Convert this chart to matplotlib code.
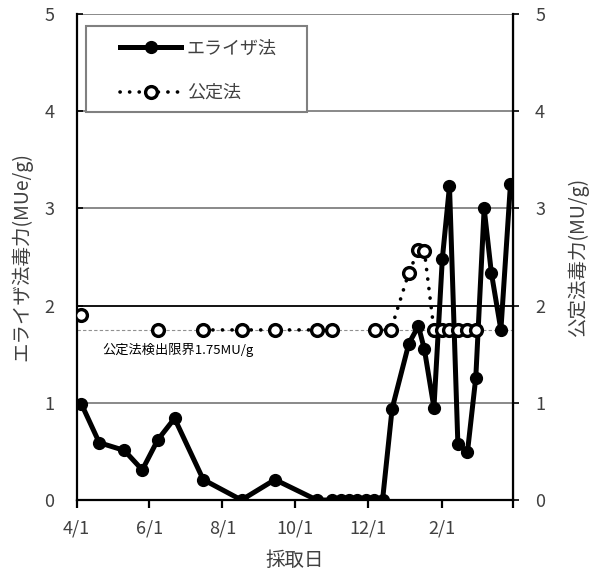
import numpy as np
import pandas as pd
import matplotlib
matplotlib.use("Agg")
import matplotlib.pyplot as plt
from matplotlib.lines import Line2D
from matplotlib.patches import Rectangle

plt.rcParams['font.family'] = ['Noto Sans CJK JP', 'DejaVu Sans']

# ELISA toxicity (MUe/g) by sampling date
elisa_dates = ["2012-04-05", "2012-04-20", "2012-05-11", "2012-05-26", "2012-06-08",
               "2012-06-22", "2012-07-16", "2012-08-17", "2012-09-14", "2012-10-19",
               "2012-11-01", "2012-11-08", "2012-11-15", "2012-11-22", "2012-11-29",
               "2012-12-06", "2012-12-13", "2012-12-21", "2013-01-04", "2013-01-12",
               "2013-01-17", "2013-01-25", "2013-02-01", "2013-02-07", "2013-02-14",
               "2013-02-22", "2013-03-01", "2013-03-08", "2013-03-14", "2013-03-22",
               "2013-03-30"]
elisa_values = [0.99, 0.59, 0.51, 0.31, 0.62,
                0.84, 0.21, 0.00, 0.21, 0.00,
                0.00, 0.00, 0.00, 0.00, 0.00,
                0.00, 0.00, 0.94, 1.61, 1.79,
                1.55, 0.95, 2.48, 3.23, 0.58,
                0.49, 1.26, 3.00, 2.34, 1.75,
                3.25]

# Official method toxicity (MU/g); NaN = not measured (breaks the line)
official_dates = ["2012-04-05", "2012-04-20", "2012-06-08", "2012-06-22", "2012-07-16",
                  "2012-08-17", "2012-09-14", "2012-10-19", "2012-11-01", "2012-11-15",
                  "2012-12-07", "2012-12-20", "2013-01-04", "2013-01-12", "2013-01-17",
                  "2013-01-25", "2013-02-01", "2013-02-07", "2013-02-14", "2013-02-22",
                  "2013-03-01"]
official_values = [1.90, np.nan, 1.75, np.nan, 1.75,
                   1.75, 1.75, 1.75, 1.75, np.nan,
                   1.75, 1.75, 2.34, 2.57, 2.56,
                   1.75, 1.75, 1.75, 1.75, 1.75,
                   1.75]

detection_limit = 1.75
tick_dates = ["2012-04-01", "2012-06-01", "2012-08-01", "2012-10-01",
              "2012-12-01", "2013-02-01", "2013-04-01"]
tick_labels = ["4/1", "6/1", "8/1", "10/1", "12/1", "2/1", ""]
y_ticks = [0, 1, 2, 3, 4, 5]

text_color = "#404040"

fig = plt.figure(figsize=(5.98, 5.77), dpi=100)
ax = fig.add_axes([0.128, 0.1334, 0.7296, 0.8423])
ax2 = ax.twinx()

ed = pd.to_datetime(elisa_dates)
od = pd.to_datetime(official_dates)

# horizontal grid lines
for v in y_ticks[1:]:
    ax.axhline(v, color="black" if v == 2 else "#808080", lw=1.3, zorder=1)
ax.axhline(detection_limit, color="#909090", lw=0.8, ls=(0, (3, 2)), zorder=1)

elisa_style = dict(color="black", lw=3.6, marker="o", ms=8.5,
                   solid_joinstyle="round")
official_style = dict(color="black", lw=2.6, ls=(0, (0.05, 2.6)),
                      dash_capstyle="round", marker="o", ms=8.5, mfc="white",
                      mec="black", mew=2.4)

ax.plot(ed, elisa_values, zorder=3, **elisa_style)
ax2.plot(od, official_values, zorder=3, **official_style)

for a in (ax, ax2):
    a.set_ylim(0, 5)
    a.set_yticks(y_ticks)
    a.set_xlim(pd.Timestamp("2012-04-01"), pd.Timestamp("2013-04-01"))
    a.spines["top"].set_visible(False)

ax.set_xticks(pd.to_datetime(tick_dates))
ax.set_xticklabels(tick_labels)

ax.spines["left"].set_linewidth(1.6)
ax.spines["bottom"].set_linewidth(1.6)
ax2.spines["right"].set_linewidth(1.6)
ax2.spines["left"].set_visible(False)
ax2.spines["bottom"].set_visible(False)

ax.tick_params(axis="y", direction="in", length=4, width=1.2, pad=16,
               labelsize=13, labelcolor=text_color)
ax.tick_params(axis="x", direction="out", length=6, width=1.6, pad=8,
               labelsize=13, labelcolor=text_color)
ax2.tick_params(axis="y", direction="out", length=4, width=1.2, pad=12,
                labelsize=13, labelcolor=text_color)

ax.set_xlabel("採取日", fontsize=14, color=text_color)
ax.xaxis.set_label_coords(0.5, -0.103)
ax.set_ylabel("エライザ法毒力(MUe/g)", fontsize=14, color=text_color)
ax.yaxis.set_label_coords(-0.102, 0.5)
ax2.set_ylabel("公定法毒力(MU/g)", fontsize=14, color=text_color)
ax2.yaxis.set_label_coords(1.126, 0.5)

ax.text(pd.Timestamp("2012-04-23"), detection_limit - 0.13,
        f"公定法検出限界{detection_limit}MU/g", fontsize=9.5, color="black",
        va="top", ha="left")

# legend box and entries
ax2.add_patch(Rectangle((0.0213, 0.798), 0.5065, 0.177, transform=ax2.transAxes,
                        facecolor="white", edgecolor="#808080", lw=1.5,
                        zorder=5, clip_on=False))
handles = [Line2D([], [], **elisa_style), Line2D([], [], **official_style)]
leg = ax2.legend(handles, ["エライザ法", "公定法"], loc="upper left",
                 bbox_to_anchor=(0.0992, 0.947), fontsize=13, frameon=False,
                 handlelength=3.4, borderpad=0, labelspacing=1.45,
                 handletextpad=0.3, borderaxespad=0)
leg.set_zorder(6)
for t in leg.get_texts():
    t.set_color(text_color)

fig.savefig("out.png", dpi=100)
